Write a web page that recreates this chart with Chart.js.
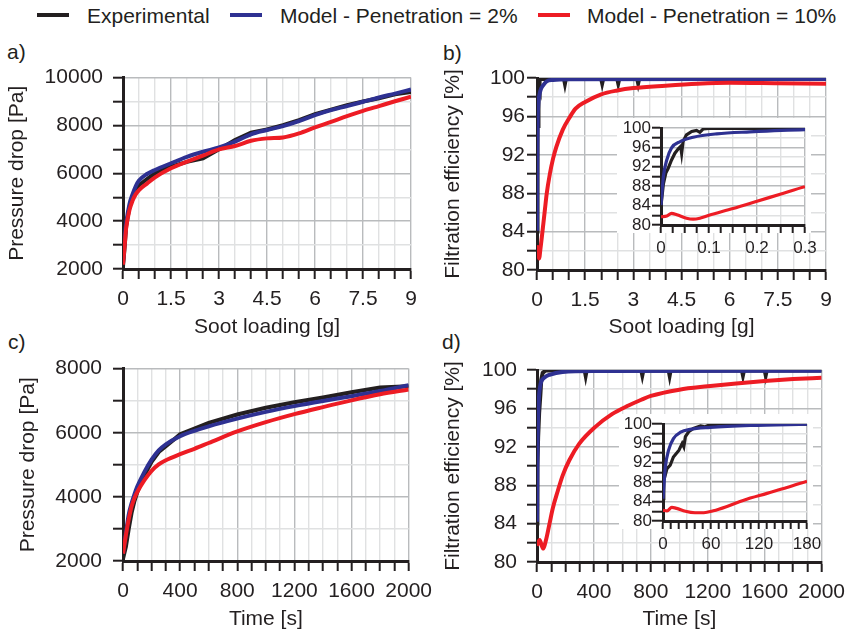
<!DOCTYPE html>
<html>
<head>
<meta charset="utf-8">
<script src="https://cdn.jsdelivr.net/npm/chart.js@4.4.0/dist/chart.umd.min.js"></script>
<style>
  body { margin: 0; background: #fff; width: 853px; height: 629px; position: relative; overflow: hidden;
         font-family: "Liberation Sans", Arial, sans-serif; color: #231f20; }
  canvas { position: absolute; }
  .lbl { position: absolute; font-size: 21px; line-height: 21px; white-space: nowrap; }
  .key { position: absolute; height: 4px; width: 32px; }
</style>
</head>
<body>
<!-- Leyenda -->
<div class="key" style="left:37px;top:13px;background:#231f20"></div>
<div class="lbl" style="left:87px;top:5px">Experimental</div>
<div class="key" style="left:230px;top:13px;background:#2e3192"></div>
<div class="lbl" style="left:280px;top:5px">Model - Penetration = 2%</div>
<div class="key" style="left:538px;top:13px;background:#ed1c24"></div>
<div class="lbl" style="left:587px;top:5px">Model - Penetration = 10%</div>

<div class="lbl" style="left:7px;top:41px">a)</div>
<div class="lbl" style="left:443px;top:42px">b)</div>
<div class="lbl" style="left:8px;top:331px">c)</div>
<div class="lbl" style="left:442px;top:331px">d)</div>

<canvas id="chartA" width="430" height="290" style="left:0;top:55px"></canvas>
<canvas id="chartB" width="423" height="290" style="left:430px;top:55px"></canvas>
<canvas id="insetB" width="240" height="165" style="left:600px;top:108px"></canvas>
<canvas id="chartC" width="440" height="284" style="left:0;top:345px"></canvas>
<canvas id="chartD" width="423" height="284" style="left:430px;top:345px"></canvas>
<canvas id="insetD" width="240" height="165" style="left:600px;top:404px"></canvas>

<script>
// a) Pressure drop vs soot loading
const cargaA = [0, 0.05, 0.1, 0.2, 0.3, 0.4, 0.5, 0.75, 1.0, 1.5, 2.0, 2.5, 3.0, 3.5, 4.0, 4.5, 5.0, 5.5, 6.0, 6.5, 7.0, 7.5, 8.0, 8.5, 9.0];
const expA = [2110, 2900, 3800, 4580, 5000, 5300, 5500, 5760, 6000, 6280, 6480, 6620, 7000, 7390, 7700, 7830, 8010, 8220, 8470, 8660, 8850, 9000, 9140, 9300, 9400];
const mod2A = [2250, 3220, 3920, 4700, 5130, 5470, 5700, 5970, 6140, 6420, 6690, 6900, 7080, 7320, 7630, 7810, 7970, 8180, 8430, 8640, 8810, 8990, 9170, 9330, 9500];
const mod10A = [2180, 2950, 3720, 4450, 4860, 5130, 5300, 5570, 5830, 6210, 6490, 6740, 7000, 7140, 7360, 7460, 7500, 7670, 7920, 8150, 8390, 8610, 8810, 9010, 9200];

// b) Filtration efficiency vs soot loading (also used by the inset)
const cargaExpB = [0, 0.005, 0.01, 0.015, 0.022, 0.029, 0.036, 0.041, 0.043, 0.046, 0.053, 0.064, 0.074, 0.081, 0.088, 0.1, 0.84, 0.87, 0.9, 2.0, 2.03, 2.06, 2.5, 2.53, 2.56, 3.12, 3.15, 3.18, 9.0];
const expB = [84.0, 88.5, 90.7, 91.7, 93.4, 94.8, 95.7, 96.2, 94.8, 97.2, 98.6, 99.3, 99.5, 99.1, 99.8, 99.9, 99.9, 99.4, 99.9, 99.9, 99.45, 99.9, 99.9, 99.45, 99.9, 99.9, 99.45, 99.9, 99.9];
const cargaMod2B = [0, 0.005, 0.012, 0.022, 0.04, 0.067, 0.116, 0.185, 0.3, 0.5, 1.0, 9.0];
const mod2B = [84.1, 90.0, 93.4, 95.9, 97.2, 98.1, 98.8, 99.2, 99.65, 99.8, 99.88, 99.9];
const cargaMod10B = [0, 0.012, 0.022, 0.033, 0.053, 0.067, 0.081, 0.1, 0.15, 0.2, 0.25, 0.3, 0.4, 0.5, 0.6, 0.8, 1.0, 1.2, 1.5, 2.0, 2.5, 3.0, 4.0, 5.0, 6.0, 7.5, 9.0];
const mod10B = [81.7, 81.85, 82.4, 82.1, 81.4, 81.2, 81.4, 82.0, 83.4, 84.9, 86.4, 87.9, 90.0, 91.6, 92.8, 94.6, 95.8, 96.8, 97.5, 98.3, 98.7, 98.95, 99.2, 99.4, 99.5, 99.45, 99.4];

// c) Pressure drop vs time
const tiempoC = [0, 20, 40, 60, 80, 100, 150, 200, 250, 300, 400, 500, 600, 800, 1000, 1200, 1400, 1600, 1800, 2000];
const expC = [2070, 2440, 3000, 3500, 3870, 4150, 4670, 5090, 5400, 5580, 5950, 6130, 6310, 6570, 6780, 6950, 7100, 7260, 7410, 7450];
const mod2C = [2230, 2850, 3450, 3800, 4080, 4320, 4780, 5160, 5450, 5640, 5890, 6060, 6200, 6440, 6650, 6830, 6990, 7140, 7300, 7480];
const mod10C = [2230, 2800, 3300, 3700, 3960, 4150, 4520, 4810, 5010, 5140, 5330, 5500, 5680, 6040, 6330, 6580, 6800, 7010, 7200, 7350];

// d) Filtration efficiency vs time
const tiempoExpD = [0, 3, 8, 15, 24, 30, 40, 60, 335, 342, 349, 733, 740, 747, 925, 932, 939, 1440, 1447, 1454, 1600, 1607, 1614, 2000];
const expD = [84, 90, 93, 95.5, 97.5, 99, 99.7, 99.95, 99.95, 99.4, 99.95, 99.95, 99.45, 99.95, 99.95, 99.4, 99.95, 99.95, 99.45, 99.95, 99.95, 99.45, 99.95, 99.95];
const tiempoMod2D = [0, 3, 7, 13, 22, 30, 60, 88, 180, 400, 2000];
const mod2D = [84.2, 91, 94.6, 97.0, 98.3, 98.8, 99.3, 99.5, 99.8, 99.9, 99.92];
const tiempoMod10D = [0, 19, 42, 65, 88, 111, 146, 180, 227, 296, 412, 527, 643, 733, 800, 1000, 1200, 1400, 1600, 1800, 2000];
const mod10D = [81.7, 82.3, 81.4, 82.4, 84.0, 85.6, 87.4, 89.0, 90.6, 92.3, 94.1, 95.4, 96.3, 96.9, 97.3, 97.95, 98.3, 98.6, 98.85, 99.05, 99.2];

// d) inset, first 180 s
const tiempoExpIns = [0, 1, 5, 9, 13, 20, 24, 26, 28, 32, 38, 47, 52, 58, 70, 180];
const expIns = [84.6, 88.4, 90.8, 91.5, 93.2, 94.6, 96, 95.3, 97.4, 98.4, 99.1, 99.6, 99.4, 99.8, 99.95, 99.95];
const tiempoMod2Ins = [0, 3, 7, 13, 22, 34, 59, 109, 180];
const mod2Ins = [84.6, 91.2, 94.6, 97.0, 98.3, 98.9, 99.3, 99.7, 99.95];
const tiempoMod10Ins = [0, 5, 11, 17, 28, 40, 51, 63, 80, 101, 130, 155, 180];
const mod10Ins = [82.2, 82.1, 82.8, 82.6, 82.0, 81.7, 81.7, 82.1, 83.0, 84.3, 85.7, 86.9, 88.2];

const colores = { exp: '#231f20', m2: '#2e3192', m10: '#ed1c24', gridMayor: '#b9bbbd', gridMenor: '#e0e1e2' };

Chart.defaults.font.family = '"Liberation Sans", Arial, sans-serif';
Chart.defaults.color = '#231f20';

function serie(xs, ys) {
  return xs.map((x, i) => ({ x: x, y: ys[i] }));
}

function esMultiplo(v, paso) {
  const r = v / paso;
  return Math.abs(r - Math.round(r)) < 1e-6;
}

function texto(v) {
  return String(Math.round(v * 1000) / 1000);
}

// Fondo blanco de los recuadros (inset)
const fondoBlanco = {
  id: 'fondoBlanco',
  beforeDraw(chart) {
    const { ctx, chartArea: a } = chart;
    ctx.save();
    ctx.fillStyle = '#ffffff';
    ctx.fillRect(a.left - 44, a.top - 10, a.width + 50, a.height + 18);
    ctx.restore();
  }
};

function eje(o, horizontal) {
  const cfg = {
    type: 'linear', min: o.min, max: o.max,
    afterFit: s => { if (o.ancho) s.width = o.ancho; if (o.alto) s.height = o.alto; },
    border: { display: true, color: colores.exp, width: 3 },
    grid: {
      lineWidth: 1.4,
      color: c => esMultiplo(c.tick.value, o.mayor) ? colores.gridMayor : (esMultiplo(c.tick.value, o.menor) ? colores.gridMenor : 'rgba(0,0,0,0)'),
      tickColor: colores.exp, tickWidth: 2, tickLength: o.tl, drawTicks: true
    },
    ticks: {
      stepSize: o.paso, autoSkip: false, maxRotation: 0, minRotation: 0, padding: o.pad,
      font: { size: o.fs }, color: colores.exp,
      callback: v => esMultiplo(v, o.etiqueta) ? texto(v) : ''
    }
  };
  if (o.titulo) {
    // el eje x usa el padding inferior, el eje y el superior
    const pad = horizontal ? { top: 0, bottom: o.tp } : { top: o.tp, bottom: 0 };
    cfg.title = { display: true, text: o.titulo, font: { size: 21 }, color: colores.exp, padding: pad };
  }
  return cfg;
}

function crearGrafico(id, o) {
  const linea = (xs, ys, color, suave) => ({
    data: serie(xs, ys), borderColor: color, backgroundColor: color, borderWidth: o.lw,
    pointRadius: 0, fill: false, tension: 0, cubicInterpolationMode: suave ? 'monotone' : 'default'
  });
  return new Chart(document.getElementById(id), {
    type: 'line',
    data: {
      datasets: [
        linea(o.series[2][0], o.series[2][1], colores.m10, true),
        linea(o.series[1][0], o.series[1][1], colores.m2, true),
        linea(o.series[0][0], o.series[0][1], colores.exp, false)
      ]
    },
    options: {
      responsive: false, animation: false, events: [],
      layout: { padding: o.padding },
      plugins: { legend: { display: false }, tooltip: { enabled: false } },
      scales: { x: eje(o.x, true), y: eje(o.y, false) }
    },
    plugins: o.inset ? [fondoBlanco] : []
  });
}

const ejeCarga = { min: 0, max: 9, paso: 0.5, etiqueta: 1.5, mayor: 1.5, menor: 0.5, tl: 10, pad: 8, fs: 21, titulo: 'Soot loading [g]', tp: 5 };
const ejeTiempo = { min: 0, max: 2000, paso: 100, etiqueta: 400, mayor: 400, menor: 100, tl: 10, pad: 8, fs: 21, titulo: 'Time [s]', tp: -3 };

crearGrafico('chartA', {
  lw: 4, padding: { top: 22, right: 19, left: 0, bottom: 0 },
  series: [[cargaA, expA], [cargaA, mod2A], [cargaA, mod10A]],
  x: Object.assign({}, ejeCarga, { alto: 76 }),
  y: { min: 2000, max: 10000, paso: 1000, etiqueta: 2000, mayor: 2000, menor: 1000, tl: 10, pad: 10, fs: 21, titulo: 'Pressure drop [Pa]', tp: 5, ancho: 123 }
});

crearGrafico('chartB', {
  lw: 4, padding: { top: 23, right: 27, left: 0, bottom: 0 },
  series: [[cargaExpB, expB], [cargaMod2B, mod2B], [cargaMod10B, mod10B]],
  x: Object.assign({}, ejeCarga, { alto: 75 }),
  y: { min: 80, max: 100, paso: 2, etiqueta: 4, mayor: 4, menor: 2, tl: 10, pad: 2, fs: 21, titulo: 'Filtration efficiency [%]', tp: 11, ancho: 107 }
});

crearGrafico('insetB', {
  lw: 3.2, inset: true, padding: { top: 20, right: 35, left: 0, bottom: 0 },
  series: [[cargaExpB, expB], [cargaMod2B, mod2B], [cargaMod10B, mod10B]],
  x: { min: 0, max: 0.3, paso: 0.025, etiqueta: 0.1, mayor: 0.1, menor: 0.05, tl: 8, pad: 5, fs: 17, alto: 48 },
  y: { min: 80, max: 100, paso: 2, etiqueta: 4, mayor: 4, menor: 2, tl: 9, pad: 1, fs: 17, ancho: 61 }
});

crearGrafico('chartC', {
  lw: 4, padding: { top: 23, right: 30, left: 0, bottom: 0 },
  series: [[tiempoC, expC], [tiempoC, mod2C], [tiempoC, mod10C]],
  x: Object.assign({}, ejeTiempo, { alto: 68 }),
  y: { min: 2000, max: 8000, paso: 1000, etiqueta: 2000, mayor: 2000, menor: 1000, tl: 10, pad: 11, fs: 21, titulo: 'Pressure drop [Pa]', tp: 16, ancho: 123 }
});

crearGrafico('chartD', {
  lw: 4, padding: { top: 25, right: 27, left: 0, bottom: 0 },
  series: [[tiempoExpD, expD], [tiempoMod2D, mod2D], [tiempoMod10D, mod10D]],
  x: Object.assign({}, ejeTiempo, { alto: 67 }),
  y: { min: 80, max: 100, paso: 2, etiqueta: 4, mayor: 4, menor: 2, tl: 10, pad: 10, fs: 21, titulo: 'Filtration efficiency [%]', tp: 11, ancho: 107 }
});

crearGrafico('insetD', {
  lw: 3.2, inset: true, padding: { top: 20, right: 33, left: 0, bottom: 0 },
  series: [[tiempoExpIns, expIns], [tiempoMod2Ins, mod2Ins], [tiempoMod10Ins, mod10Ins]],
  x: { min: 0, max: 180, paso: 10, etiqueta: 60, mayor: 60, menor: 30, tl: 8, pad: 5, fs: 17, alto: 48 },
  y: { min: 80, max: 100, paso: 2, etiqueta: 4, mayor: 4, menor: 2, tl: 11, pad: 0, fs: 17, ancho: 63 }
});
</script>
</body>
</html>
